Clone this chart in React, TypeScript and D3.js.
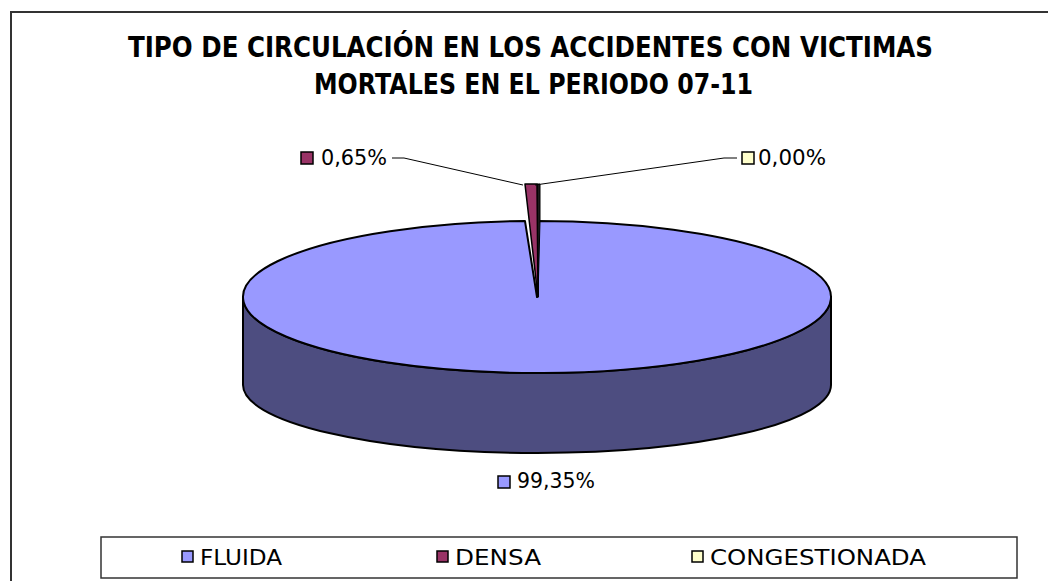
import React from "react";
import * as d3 from "d3";

// tipo de circulación, periodo 07-11
const categories = ["FLUIDA", "DENSA", "CONGESTIONADA"];
const shares = [99.35, 0.65, 0.0];
const sliceLabels = ["99,35%", "0,65%", "0,00%"];
const titleLines = [
  "TIPO DE CIRCULACIÓN EN LOS ACCIDENTES CON VICTIMAS",
  "MORTALES EN EL PERIODO 07-11",
];

const colors = ["#9999FF", "#993366", "#FFFFCC"];
const sideColor = "#4D4D80";
const font = "'Century Gothic', 'DejaVu Sans', sans-serif";

const W = 1048;
const H = 581;
const cx = 537;
const cy = 297;
const rx = 294;
const ry = 76;
const depth = 88;
const ryBottom = 68;
const explode = 37;

const App = () => {
  const pie = d3
    .pie<number>()
    .sort(null)
    .value((d) => d)
    .startAngle(0)
    .endAngle(2 * Math.PI);
  const arcs = pie(shares);

  // projected point on the tilted ellipse, angle clockwise from 12 o'clock
  const pt = (a: number, kx = rx, ky = ry, y0 = cy): [number, number] => [
    cx + kx * Math.sin(a),
    y0 - ky * Math.cos(a),
  ];

  const fluida = arcs[0];
  const [fx0, fy0] = pt(fluida.startAngle);
  const [fx1, fy1] = pt(fluida.endAngle);
  const large = fluida.endAngle - fluida.startAngle > Math.PI ? 1 : 0;
  const fluidaTop = `M${cx},${cy} L${fx0},${fy0} A${rx},${ry} 0 ${large} 1 ${fx1},${fy1} Z`;

  const fluidaSide =
    `M${cx + rx},${cy} A${rx},${ry} 0 0 1 ${cx - rx},${cy}` +
    ` L${cx - rx},${cy + depth} A${rx},${ryBottom} 0 0 0 ${cx + rx},${cy + depth} Z`;

  const densa = arcs[1];
  const ext = ry + explode;
  const [dx0, dy0] = pt(densa.startAngle, rx, ext);
  const [dx1, dy1] = pt(densa.endAngle, rx, ext);
  const densaTop = `M${cx + 1},${cy} L${dx0},${dy0} A${rx},${ext} 0 0 1 ${dx1},${dy1} Z`;
  const densaWall = `M${dx1},${dy1} L${dx1 + 3},${dy1} L${dx1 + 3},${cy - ry} L${cx + 1},${cy} L${cx},${cy} Z`;

  const titleLen = [805, 439];
  const titleX = [128, 314];
  const titleY = [57, 94];

  const legendX = d3.scalePoint<string>().domain(categories).range([182, 692]);
  const legendLen = [82, 86, 216];

  // slice label layout: marker box x/y, text x, baseline y, text length
  const labelPos = [
    { mx: 498, my: 476, tx: 517, ty: 488, len: 78 },
    { mx: 301, my: 152, tx: 321, ty: 165, len: 66 },
    { mx: 742, my: 152, tx: 758, ty: 165, len: 68 },
  ];
  const tip = pt((densa.startAngle + densa.endAngle) / 2, rx, ext);

  return (
    <svg
      width={W}
      height={H}
      style={{ position: "absolute", left: 0, top: 0, background: "#fff" }}
    >
      <rect x={11} y={12} width={1100} height={650} fill="#fff" stroke="#333" strokeWidth={2} />

      {titleLines.map((t, i) => (
        <text
          key={t}
          x={titleX[i]}
          y={titleY[i]}
          fontFamily={font}
          fontWeight="bold"
          fontSize={28}
          textLength={titleLen[i]}
          lengthAdjust="spacingAndGlyphs"
          fill="#000"
        >
          {t}
        </text>
      ))}

      <path d={fluidaSide} fill={sideColor} stroke="#000" strokeWidth={2} />
      <path d={fluidaTop} fill={colors[0]} stroke="#000" strokeWidth={2} strokeLinejoin="round" />
      <line x1={cx} y1={cy - ry} x2={cx + 1} y2={cy} stroke="#000" strokeWidth={2} />
      <path d={densaWall} fill="#1a1a1a" stroke="#000" strokeWidth={1} />
      <path d={densaTop} fill={colors[1]} stroke="#000" strokeWidth={1.5} strokeLinejoin="round" />

      {/* leader lines */}
      <polyline
        points={`392,158 404,158 ${tip[0] - 8},${tip[1] + 1}`}
        fill="none"
        stroke="#000"
        strokeWidth={1}
      />
      <polyline
        points={`${tip[0] + 4},${tip[1] + 1} 724,158 737,158`}
        fill="none"
        stroke="#000"
        strokeWidth={1}
      />

      {labelPos.map((p, i) => (
        <g key={sliceLabels[i]}>
          <rect x={p.mx} y={p.my} width={12} height={12} fill={colors[i]} stroke="#000" strokeWidth={1.5} />
          <text
            x={p.tx}
            y={p.ty}
            fontFamily={font}
            fontSize={22}
            textLength={p.len}
            lengthAdjust="spacingAndGlyphs"
          >
            {sliceLabels[i]}
          </text>
        </g>
      ))}

      <rect x={101} y={537} width={916} height={41} fill="#fff" stroke="#333" strokeWidth={1.5} />
      {categories.map((c, i) => (
        <g key={c}>
          <rect
            x={legendX(c)}
            y={551}
            width={11}
            height={11}
            fill={colors[i]}
            stroke="#000"
            strokeWidth={1.5}
          />
          <text
            x={(legendX(c) as number) + 18}
            y={565}
            fontFamily={font}
            fontSize={21}
            textLength={legendLen[i]}
            lengthAdjust="spacingAndGlyphs"
          >
            {c}
          </text>
        </g>
      ))}
    </svg>
  );
};

export default App;
